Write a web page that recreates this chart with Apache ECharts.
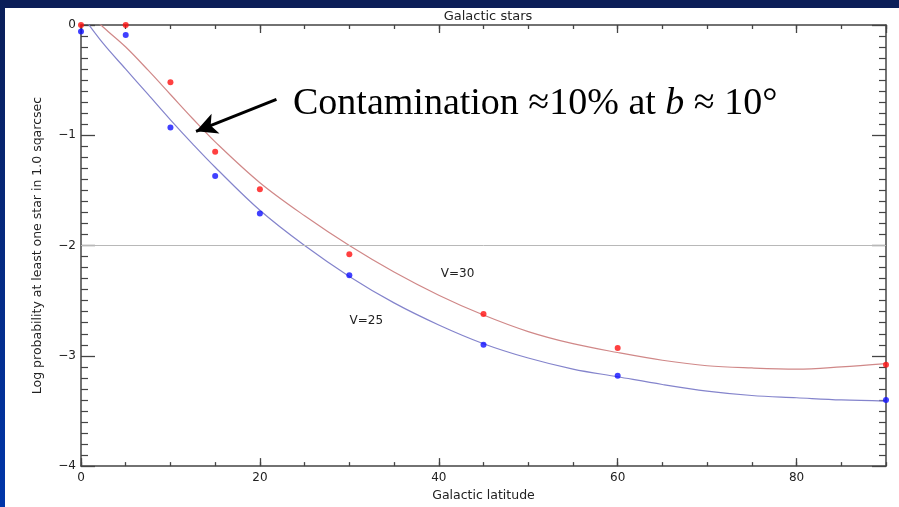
<!DOCTYPE html>
<html><head><meta charset="utf-8">
<script src="https://cdn.jsdelivr.net/npm/echarts@6/dist/echarts.min.js"></script>
<style>html,body{margin:0;padding:0;background:#fff}#c{width:899px;height:507px}</style>
</head><body><div id="c"></div>
<script>
// Observed points (Galactic latitude, log probability)
const latitudes = [0, 5, 10, 15, 20, 30, 45, 60, 90];
const v30Points = [0.0, 0.0, -0.52, -1.15, -1.49, -2.08, -2.62, -2.93, -3.08];
const v25Points = [-0.06, -0.09, -0.93, -1.37, -1.71, -2.27, -2.90, -3.18, -3.40];
// Fitted curves
const fitLatitudes = [0, 2.5, 5, 7.5, 10, 12.5, 15, 20, 25, 30, 35, 40, 45, 50, 55, 60, 65, 70, 75, 80, 85, 90];
const v30Fit = [0.18, -0.02, -0.2, -0.41, -0.63, -0.85, -1.06, -1.43, -1.73, -2.0, -2.24, -2.45, -2.63, -2.78, -2.89, -2.97, -3.04, -3.09, -3.11, -3.12, -3.10, -3.07];
const v25Fit = [0.1, -0.17, -0.4, -0.63, -0.86, -1.08, -1.29, -1.68, -2.0, -2.28, -2.52, -2.72, -2.89, -3.02, -3.12, -3.19, -3.26, -3.32, -3.36, -3.38, -3.40, -3.41];
const xMajorTicks = [0, 20, 40, 60, 80];
const yTickLabels = ['0', '−1', '−2', '−3', '−4'];
const referenceLevel = -2;
const arrowFrom = [21.85, -0.674];
const arrowTo = [12.86, -0.964];
const labelV30 = [42.1, -2.26];
const labelV25 = [31.9, -2.68];

const zip = (xs, ys) => xs.map((x, i) => [x, ys[i]]);
const axisColor = '#444';
const font = 'DejaVu Sans';
const txt = '#222';

function xAxisDef(pos, interval, len, labels, line) {
  return {
    type: 'value', position: pos, min: 0, max: 90, interval: interval,
    axisLine: {show: line, onZero: false, lineStyle: {color: axisColor, width: 1.5}},
    axisTick: {show: true, inside: true, length: len, lineStyle: {color: axisColor, width: 1.3}},
    axisLabel: labels ? {show: true, color: txt, fontFamily: font, fontSize: 12, margin: 6,
      showMaxLabel: false, formatter: v => xMajorTicks.includes(v) ? String(v) : ''} : {show: false},
    splitLine: {show: false},
    name: labels ? 'Galactic latitude' : '', nameLocation: 'middle', nameGap: 21,
    nameTextStyle: {color: txt, fontFamily: font, fontSize: 12.5}
  };
}
function yAxisDef(pos, labels) {
  return {
    type: 'value', position: pos, min: -4, max: 0, interval: 1,
    axisLine: {show: true, onZero: false, lineStyle: {color: axisColor, width: 1.5}},
    axisTick: {show: true, inside: true, length: 14, lineStyle: {color: axisColor, width: 1.3}},
    minorTick: {show: true, splitNumber: 10, length: 7, lineStyle: {color: axisColor, width: 1.2}},
    axisLabel: labels ? {show: true, color: txt, fontFamily: font, fontSize: 12, margin: 5,
      formatter: v => yTickLabels[Math.round(-v)]} : {show: false},
    splitLine: {show: false},
    name: labels ? 'Log probability at least one star in 1.0 sqarcsec' : '',
    nameLocation: 'middle', nameGap: 37,
    nameTextStyle: {color: txt, fontFamily: font, fontSize: 12.5}
  };
}

const chart = echarts.init(document.getElementById('c'));
chart.setOption({
  backgroundColor: '#fff',
  animation: false,
  title: {text: 'Galactic stars', left: 483, top: 5, textAlign: 'center',
    textStyle: {color: txt, fontFamily: font, fontSize: 13, fontWeight: 'normal'}},
  grid: {left: 81, right: 13, top: 25, bottom: 35},
  xAxis: [xAxisDef('bottom', 20, 8, true, true), xAxisDef('bottom', 5, 4, false, false),
          xAxisDef('top', 20, 8, false, true), xAxisDef('top', 5, 4, false, false)],
  yAxis: [yAxisDef('left', true), yAxisDef('right', false)],
  series: [
    {type: 'line', name: 'V=30 fit', data: zip(fitLatitudes, v30Fit), smooth: 0.35, showSymbol: false,
     lineStyle: {color: '#d08888', width: 1.2}, z: 2,
     markLine: {silent: true, symbol: ['none', 'none'], label: {show: false},
       data: [
         {yAxis: referenceLevel, lineStyle: {color: '#b8b8b8', width: 1, type: 'solid'}},
         [{coord: arrowFrom, symbol: 'none'},
          {coord: arrowTo, symbol: 'arrow', symbolSize: [16, 21], lineStyle: {color: '#000', width: 3, type: 'solid'}}]
       ]},
     markPoint: {silent: true, symbol: 'circle', symbolSize: 0,
       label: {show: true, position: 'inside', color: txt, fontFamily: font, fontSize: 12},
       data: [{coord: labelV30, value: 'V=30', label: {formatter: 'V=30'}},
              {coord: labelV25, value: 'V=25', label: {formatter: 'V=25'}}]}
    },
    {type: 'line', name: 'V=25 fit', data: zip(fitLatitudes, v25Fit), smooth: 0.35, showSymbol: false,
     lineStyle: {color: '#8484cc', width: 1.2}, z: 2},
    {type: 'scatter', name: 'V=30', data: zip(latitudes, v30Points), symbolSize: 6,
     itemStyle: {color: '#ff1010'}, z: 3},
    {type: 'scatter', name: 'V=25', data: zip(latitudes, v25Points), symbolSize: 6,
     itemStyle: {color: '#1010ff'}, z: 3}
  ],
  graphic: [
    {type: 'rect', left: 0, top: 0, z: 100, shape: {width: 899, height: 8}, style: {fill: '#0b1e58'}},
    {type: 'rect', left: 0, top: 0, z: 100, shape: {width: 5, height: 507},
     style: {fill: new echarts.graphic.LinearGradient(0, 0, 0, 1, [{offset: 0, color: '#0a1e58'}, {offset: 1, color: '#0036aa'}])}},
    {type: 'text', left: 293, top: 85, z: 100,
     style: {text: '{a|Contamination ≈10% at }{i|b}{a| ≈ 10°}',
       rich: {a: {fontFamily: 'Liberation Serif', fontSize: 38, fill: '#000'},
              i: {fontFamily: 'Liberation Serif', fontSize: 38, fontStyle: 'italic', fill: '#000'}}}}
  ]
});
</script></body></html>
